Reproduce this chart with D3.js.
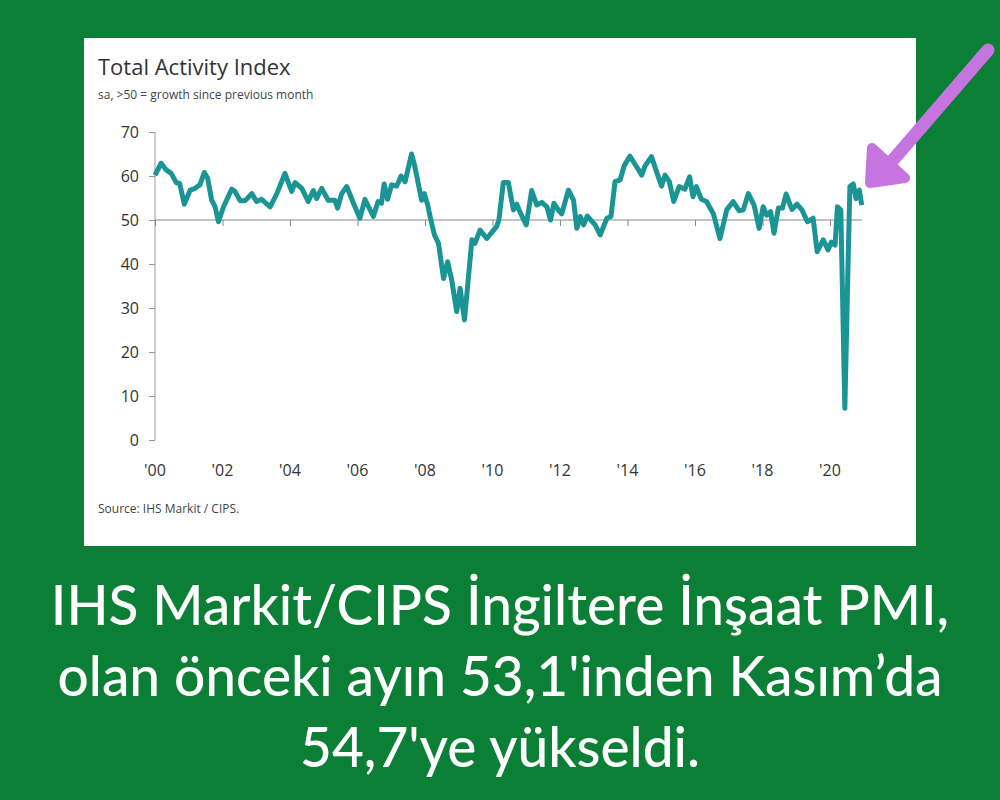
<!DOCTYPE html>
<html><head><meta charset="utf-8">
<script src="https://cdn.jsdelivr.net/npm/d3@7"></script>
<style>body{margin:0;background:#0b7f35}</style></head>
<body><svg id="c" width="1000" height="800"></svg>
<script>
const dates=[2000.0,2000.18,2000.33,2000.48,2000.63,2000.73,2000.87,2001.04,2001.19,2001.33,2001.46,2001.56,2001.68,2001.78,2001.88,2002.03,2002.27,2002.37,2002.52,2002.67,2002.87,2003.01,2003.16,2003.41,2003.61,2003.85,2004.05,2004.15,2004.35,2004.54,2004.69,2004.79,2004.94,2005.13,2005.33,2005.41,2005.53,2005.68,2005.88,2006.07,2006.22,2006.47,2006.61,2006.71,2006.79,2006.89,2007.01,2007.16,2007.29,2007.41,2007.6,2007.7,2007.9,2007.98,2008.08,2008.15,2008.28,2008.4,2008.55,2008.67,2008.79,2008.94,2009.04,2009.17,2009.39,2009.48,2009.63,2009.83,2010.12,2010.19,2010.32,2010.47,2010.62,2010.72,2010.81,2011.0,2011.16,2011.31,2011.46,2011.61,2011.72,2011.82,2011.95,2012.05,2012.25,2012.4,2012.5,2012.6,2012.7,2012.81,2013.04,2013.19,2013.39,2013.51,2013.63,2013.78,2013.9,2014.07,2014.27,2014.42,2014.52,2014.71,2014.86,2015.01,2015.11,2015.24,2015.37,2015.53,2015.7,2015.84,2015.94,2016.04,2016.19,2016.34,2016.54,2016.74,2016.94,2017.01,2017.13,2017.31,2017.43,2017.58,2017.75,2017.9,2018.02,2018.12,2018.24,2018.34,2018.47,2018.59,2018.7,2018.87,2019.02,2019.17,2019.33,2019.5,2019.62,2019.8,2019.94,2020.04,2020.15,2020.22,2020.32,2020.44,2020.54,2020.59,2020.69,2020.77,2020.87,2020.94];
const values=[60.2,62.9,61.4,60.6,58.5,58.3,53.6,56.8,57.2,58,60.8,59.5,54.5,53,49.6,53,57,56.5,54.4,54.4,56,54.2,54.7,53,56,60.6,56.5,58.5,57.2,54.2,56.7,54.9,57.2,54.5,54.5,52.7,56,57.6,53.8,50.4,54.7,50.8,54.2,53.8,58.2,54.7,58,57.7,60,58.7,65,62.1,54.5,56,53.4,50.8,46.6,44.7,36.7,40.5,36.4,29.2,34.5,27.3,45.5,44.7,47.7,45.8,48.5,50,58.5,58.5,52.3,53.6,51.9,48.9,56.7,53.4,54,53,50,53.8,52.3,51.4,56.8,54.5,48.1,50.8,48.9,50.9,48.9,46.6,50.4,50.8,58.7,59.1,62.3,64.5,62.1,60.2,62.3,64.4,61,57.7,60.2,58.7,54.2,57.6,57,59.8,55.3,57.6,54.7,54.2,51.5,45.8,52.3,53,54.2,52.1,52.3,56,53.4,48.1,53,51.1,51.9,47,52.7,52.7,55.9,52.4,53.6,52.3,49.6,50.4,42.8,45.5,43.2,45,44.3,53,52.3,7.2,41.7,57.6,58.2,54.9,56.8,53.4,54.9];
const yTicks=[0,10,20,30,40,50,60,70];
const xTickYears=[2000,2002,2004,2006,2008,2010,2012,2014,2016,2018,2020];
const xTickLabels=["'00","'02","'04","'06","'08","'10","'12","'14","'16","'18","'20"];
const captionLines=["IHS Markit/CIPS İngiltere İnşaat PMI,","olan önceki ayın 53,1'inden Kasım’da","54,7'ye yükseldi."];

const svg=d3.select("#c");
svg.append("rect").attr("width",1000).attr("height",800).attr("fill","#0b7f35");
svg.append("rect").attr("x",84).attr("y",38).attr("width",832).attr("height",508).attr("fill","#fff");
const x=d3.scaleLinear().domain([2000,2020]).range([155,830]);
const y=d3.scaleLinear().domain([0,70]).range([440,132]);
const F="'Open Sans',sans-serif";
svg.append("text").attr("x",98).attr("y",75).attr("font-family",F).attr("font-size",22).attr("fill","#333").text("Total Activity Index");
svg.append("text").attr("x",98).attr("y",99).attr("font-family",F).attr("font-size",12).attr("fill","#444").text("sa, >50 = growth since previous month");
const ya=svg.append("g").attr("transform","translate(155,0)").call(d3.axisLeft(y).tickValues(yTicks).tickSize(6).tickPadding(10));
ya.select(".domain").attr("stroke","#999").attr("d","M0,132V440");
ya.selectAll(".tick line").attr("stroke","#999");
ya.selectAll("text").attr("font-family",F).attr("font-size",16).attr("fill","#333");
svg.append("line").attr("x1",155).attr("x2",862).attr("y1",y(50)).attr("y2",y(50)).attr("stroke","#888").attr("stroke-width",1.2);
const xa=svg.append("g").attr("transform",`translate(0,${y(50)})`).call(d3.axisBottom(x).tickValues(xTickYears).tickSize(6).tickFormat(""));
xa.select(".domain").remove();xa.selectAll(".tick line").attr("stroke","#888");
svg.append("g").selectAll("text").data(xTickYears).join("text").attr("x",d=>x(d)).attr("y",476).attr("text-anchor","middle")
 .attr("font-family",F).attr("font-size",16).attr("fill","#333").text((d,i)=>xTickLabels[i]);
svg.append("path").datum(dates.map((d,i)=>[d,values[i]])).attr("fill","none").attr("stroke","#1a9494").attr("stroke-width",5).attr("stroke-linejoin","round")
 .attr("d",d3.line().x(d=>x(d[0])).y(d=>y(d[1])));
svg.append("text").attr("x",98).attr("y",513).attr("font-family",F).attr("font-size",12).attr("fill","#444").text("Source: IHS Markit / CIPS.");
svg.append("line").attr("x1",988).attr("y1",50).attr("x2",893).attr("y2",160).attr("stroke","#c674e0").attr("stroke-width",13).attr("stroke-linecap","round");
svg.append("path").attr("d","M870,183 L872,148 L905,178 Z").attr("fill","#c674e0").attr("stroke","#c674e0").attr("stroke-width",10).attr("stroke-linejoin","round");
svg.append("g").selectAll("text").data(captionLines).join("text").attr("x",500).attr("y",(d,i)=>625+i*71).attr("text-anchor","middle")
 .attr("font-family","Lato,sans-serif").attr("font-weight",500).attr("font-size",55).attr("fill","#fff").text(d=>d);
</script></body></html>
